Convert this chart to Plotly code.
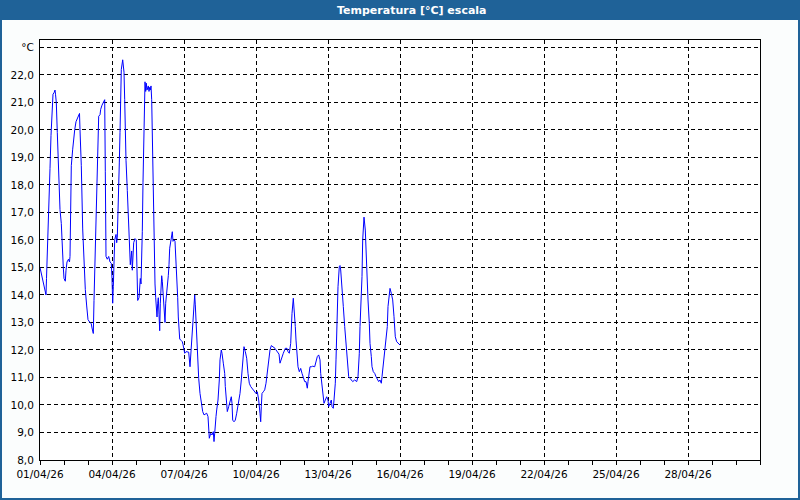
import pandas as pd
import plotly.graph_objects as go

# Hours since 01/04/26 00:00 and temperature (°C)
hours = [
    0, 2, 3, 4.5, 6, 6.5, 7.5, 8, 9, 10, 11, 12, 13, 14, 15, 15.5, 16.3, 17.3, 18.7, 20,
    21.3, 22, 23.3, 24, 25.3, 26, 27, 28.5, 29.5, 30, 30.7, 31.3, 32.7, 33.3, 34.7, 36, 37.3, 38.7, 39.5, 40,
    41.3, 42.7, 44, 45.3, 46.7, 48, 50, 51.3, 52, 53.3, 54, 54.7, 56, 57.3, 58, 58.7, 60, 60.7, 62, 63.3,
    64.7, 65.3, 66, 67.3, 68.7, 70, 71.3, 72, 72.7, 73.3, 74, 74.7, 76, 76.7, 77.3, 78, 79.3, 80, 80.7, 81.3,
    82.7, 84, 84.7, 85.3, 86, 87.3, 88.7, 89.7,
    90.3, 91.7, 92.3, 93.7, 95, 96.3, 97, 97.7, 99, 100.3, 101, 101.7, 102.3, 103, 103.7, 104.3, 105, 105.7, 106.3, 107,
    108.3, 109, 109.7, 110.3, 111, 111.7, 112.3, 113, 113.7, 114.3, 115, 115.7, 117, 117.7, 118.3, 119, 119.7, 120.3, 121, 121.7,
    122.3, 123, 123.7, 124.3, 125, 125.7, 126.3, 127.7, 128.3, 129, 129.7, 131, 132.3, 133, 134.3, 135, 135.7, 137, 137.7, 138.3,
    139, 139.7, 141, 142.3, 143,
    144.7, 146, 148.7, 150, 150.7, 152, 152.7, 154, 154.7, 155.3, 156, 156.7, 157.3, 158.7, 160, 161.3, 162.7, 164, 165.3, 166.7,
    168, 168.7, 169.3, 170.7, 172, 173.3, 174, 174.7, 175.3, 176, 176.7, 178, 179.3, 180, 181.3, 182, 183.3, 184.7, 185.3, 186,
    187.3, 188.7, 190, 191.3, 192, 192.7, 194, 195.3, 196.7, 198, 200, 201.3, 202.7, 204, 205.3, 206.7, 208, 209.3, 210.7, 212,
    214, 216, 217.3, 218.7, 220, 220.7, 221.3, 222, 223.3, 224.7, 226, 227.3, 228.7, 230,
    231.3, 233.3, 235, 236, 237.3, 239, 240, 241.3, 243.3, 245.3, 247, 248, 249.3, 250.7, 251.3, 252, 253.3, 254, 254.7, 255.3,
    256, 256.7, 258, 259.3, 260.7, 262, 263.3, 264.7, 266, 267.3, 268, 268.7, 270, 271.3, 272.7, 274.7, 276, 277.3, 278.7, 280,
    280.7, 282, 282.7, 283.3, 284, 285.3, 286.7, 288, 288.7, 290, 291.3, 292, 293.3, 294, 295.3, 296, 296.7, 297.3, 298, 299.3,
    300, 300.7, 301.3, 302, 303.3, 304.7, 306, 307.3, 308.7,
    310, 311.3, 312.7, 314.7, 316.7, 318, 319.3, 320, 321.3, 322, 322.7, 323.3, 324, 325.3, 326, 326.7, 328, 329.3, 330, 331.3,
    332, 333.3, 334.7, 336, 337.3, 338.7, 340, 341.3, 342, 343.3, 344.7, 346, 347.3, 348, 349.3, 350, 351.3, 352.7, 354, 355.3,
    356.7, 358.7, 360,
]
temps = [
    15.0, 14.7, 14.5, 14.3, 14.0, 14.6, 15.9, 16.9, 17.8, 18.6, 19.8, 21.0, 21.3, 21.35, 21.45, 21.3, 21.0, 19.9, 18.3, 17.1,
    16.6, 15.8, 15.0, 14.6, 14.5, 14.9, 15.2, 15.3, 15.2, 15.4, 17.8, 18.7, 19.3, 19.6, 20.0, 20.3, 20.4, 20.55, 20.6, 20.0,
    18.7, 16.4, 15.0, 14.2, 13.6, 13.1, 13.0, 12.95, 12.8, 12.6, 13.8, 14.9, 16.5, 18.1, 20.0, 20.5, 20.55, 20.75, 20.9, 21.0,
    21.1, 18.5, 15.4, 15.3, 15.4, 15.2, 15.15, 14.6, 13.7, 14.3, 15.4, 16.0, 16.2, 15.9, 16.1, 17.5, 18.8, 19.9, 21.3, 22.2,
    22.55, 22.1, 21.1, 20.0, 18.9, 17.8, 16.7, 15.6,
    15.1, 15.6, 14.9, 15.9, 16.05, 16.0, 14.8, 13.8, 13.9, 14.6, 14.4, 15.1, 16.3, 18.1, 19.9, 21.2, 21.75, 21.4, 21.7, 21.45,
    21.6, 21.4, 21.55, 21.45, 21.6, 21.1, 19.9, 18.1, 16.6, 15.1, 14.4, 13.9, 13.2, 13.7, 13.9, 13.3, 12.7, 13.7, 14.6, 14.7,
    14.5, 14.1, 13.7, 13.2, 13.0, 13.7, 13.9, 14.4, 14.7, 15.1, 15.7, 16.0, 16.3, 15.95, 16.0, 15.95, 15.4, 14.9, 13.9, 13.2,
    12.5, 12.4, 12.35, 12.3, 12.2,
    11.88, 11.94, 11.92, 11.39, 11.76, 12.48, 13.09, 13.57, 14.0, 13.64, 13.09, 12.48, 11.76, 10.97, 10.42, 10.12, 9.76, 9.64, 9.67, 9.7,
    9.58, 9.09, 8.79, 8.97, 8.91, 9.03, 8.67, 8.97, 9.52, 9.58, 9.82, 10.18, 10.91, 11.64, 12.0, 11.88, 11.52, 11.15, 10.67, 10.18,
    9.76, 9.94, 10.12, 10.3, 10.06, 9.45, 9.39, 9.45, 9.7, 9.94, 10.42, 10.91, 11.64, 12.12, 11.94, 11.7, 11.15, 10.79, 10.67, 10.61,
    10.52, 10.42, 10.48, 10.18, 9.7, 9.39, 9.94, 10.42, 10.48, 10.55, 10.79, 11.27, 11.76, 12.0,
    12.16, 12.12, 12.06, 12.0, 11.95, 11.85, 11.52, 11.7, 11.88, 12.06, 12.06, 11.94, 11.88, 12.24, 12.85, 13.33, 13.88, 13.58, 13.27, 12.85,
    12.36, 12.0, 11.39, 11.21, 11.33, 11.15, 11.03, 10.85, 10.85, 10.61, 10.85, 11.15, 11.39, 11.39, 11.41, 11.39, 11.58, 11.76, 11.82, 11.64,
    11.15, 10.67, 10.3, 10.12, 10.06, 10.18, 10.3, 10.18, 9.94, 10.06, 10.18, 9.94, 9.88, 10.18, 10.79, 11.64, 12.61, 13.58, 14.3, 15.03,
    15.07, 14.91, 14.67, 14.18, 13.58, 12.85, 12.24, 11.64, 11.03,
    10.97, 10.91, 10.85, 10.91, 10.85, 11.03, 11.88, 12.85, 13.82, 14.67, 16.0, 16.67, 16.83, 16.36, 15.64, 14.67, 13.82, 12.97, 12.24, 11.76,
    11.39, 11.21, 11.15, 11.03, 10.91, 10.85, 10.91, 10.79, 11.03, 11.52, 11.88, 12.36, 12.85, 13.58, 14.18, 14.24, 14.06, 13.82, 13.21, 12.48,
    12.3, 12.24, 12.18,
]

start = pd.Timestamp("2026-04-01 00:00")
end = pd.Timestamp("2026-05-01 00:00")
x_dates = [start + pd.Timedelta(hours=h) for h in hours]

x_tick_days = [1, 4, 7, 10, 13, 16, 19, 22, 25, 28]
x_tickvals = [pd.Timestamp(2026, 4, d) for d in x_tick_days]
x_ticktext = [f"{d:02d}/04/26" for d in x_tick_days]

y_tickvals = list(range(8, 24))
y_ticktext = [f"{v},0" for v in range(8, 23)] + ["°C"]

title_text = "Temperatura [°C] escala"

W, H = 800, 500
L, R, T, B = 40, 40, 40, 40
PW, PH = W - L - R, H - T - B


def px_x(px):
    return (px - L) / PW


def px_y(py):
    return (H - B - py) / PH


font_family = "DejaVu Sans"
bar_color = "#1f6298"

fig = go.Figure()
fig.add_trace(go.Scatter(
    x=x_dates, y=temps, mode="lines",
    line=dict(color="#0000ff", width=1),
    hoverinfo="skip", showlegend=False,
))

fig.update_layout(
    width=W, height=H,
    margin=dict(l=L, r=R, t=T, b=B, pad=0, autoexpand=False),
    paper_bgcolor="#fbfdfd",
    plot_bgcolor="#ffffff",
    font=dict(family=font_family, size=10.5, color="#000000"),
    showlegend=False,
    xaxis=dict(
        type="date", automargin=False,
        range=[start, end],
        tickmode="array", tickvals=x_tickvals, ticktext=x_ticktext,
        ticks="outside", ticklen=4, tickcolor="#000000", tickwidth=1,
        showgrid=True, gridcolor="#000000", gridwidth=1, griddash="4px,3px",
        showline=True, linecolor="#000000", linewidth=1, mirror=True,
        zeroline=False,
        minor=dict(tickmode="linear", tick0=start, dtick=86400000,
                   ticks="outside", ticklen=4, tickcolor="#000000", showgrid=False),
        tickfont=dict(family=font_family, size=10.5, color="#000000"),
    ),
    yaxis=dict(
        automargin=False,
        range=[8, 23.27],
        tickmode="array", tickvals=y_tickvals, ticktext=y_ticktext,
        ticks="", ticklabelstandoff=3,
        showgrid=True, gridcolor="#000000", gridwidth=1, griddash="4px,3px",
        showline=True, linecolor="#000000", linewidth=1, mirror=True,
        zeroline=False,
        tickfont=dict(family=font_family, size=10.5, color="#000000"),
    ),
    shapes=[
        dict(type="rect", xref="paper", yref="paper",
             x0=px_x(0), x1=px_x(800), y0=px_y(20), y1=px_y(0),
             fillcolor=bar_color, line=dict(width=0), layer="above"),
        dict(type="rect", xref="paper", yref="paper",
             x0=px_x(1), x1=px_x(799), y0=px_y(499), y1=px_y(1),
             fillcolor="rgba(0,0,0,0)", line=dict(color=bar_color, width=2), layer="above"),
    ],
    annotations=[
        dict(text=f"<b>{title_text}</b>", xref="paper", yref="paper",
             x=px_x(412), y=px_y(10), xanchor="center", yanchor="middle",
             showarrow=False, font=dict(family=font_family, size=11, color="#ffffff")),
    ],
)

fig.write_html(
    "out.html",
    config={"displayModeBar": False},
    post_script="document.body.style.margin='0';document.body.style.overflow='hidden';",
)
